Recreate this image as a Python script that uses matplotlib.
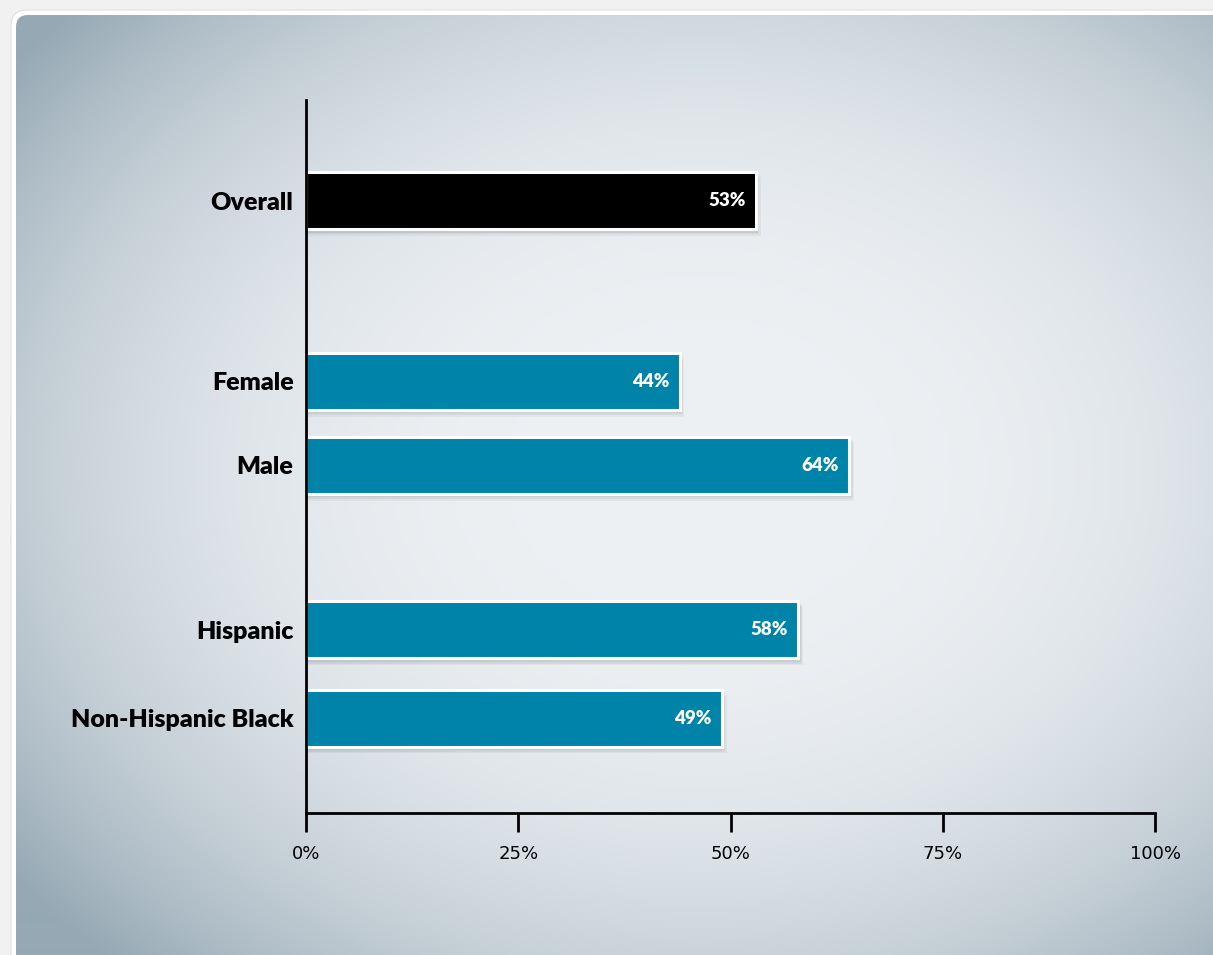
import numpy as np
import matplotlib
matplotlib.use("Agg")
import matplotlib.pyplot as plt
from matplotlib.patches import FancyBboxPatch, Rectangle
from matplotlib import font_manager

# ---- data ----
categories = ["Overall", "Female", "Male", "Hispanic", "Non-Hispanic Black"]
values = [53, 44, 64, 58, 49]
bar_colors = ["#000000", "#0083a9", "#0083a9", "#0083a9", "#0083a9"]
xticks = [0, 25, 50, 75, 100]
xtick_labels = ["0%", "25%", "50%", "75%", "100%"]

# ---- layout (slot positions, not data) ----
ypos = [1.20, 3.35, 4.35, 6.31, 7.36]
bar_h = 0.68
y_extent = 8.49

W, H = 1213, 955
fig = plt.figure(figsize=(W / 100, H / 100), dpi=100)
fig.patch.set_facecolor("#f1f1f1")

avail = {f.name for f in font_manager.fontManager.ttflist}
label_font = "Lato" if "Lato" in avail else "DejaVu Sans"
tick_font = "Liberation Sans Narrow" if "Liberation Sans Narrow" in avail else "DejaVu Sans"

# background panel
bg = fig.add_axes([0, 0, 1, 1])
bg.set_xlim(0, W)
bg.set_ylim(H, 0)
bg.axis("off")
border = FancyBboxPatch((11, 10), W + 40, H + 40,
                        boxstyle="round,pad=0,rounding_size=16",
                        facecolor="white", edgecolor="#e0e0e0", lw=0.8)
bg.add_patch(border)
panel = FancyBboxPatch((16, 15), W + 40, H + 40,
                       boxstyle="round,pad=0,rounding_size=12",
                       facecolor="none", edgecolor="none")
bg.add_patch(panel)
yy, xx = np.mgrid[0:H, 0:W]
cx, cy, rx, ry = 700, 470, 720, 560
d = np.sqrt(((xx - cx) / rx) ** 2 + ((yy - cy) / ry) ** 2)
t = np.clip(d, 0, 1.2) / 1.2
t = t ** 2.8
c0 = np.array([0xee, 0xf1, 0xf4]) / 255
c1 = np.array([0x95, 0xa8, 0xb4]) / 255
img = c0[None, None, :] * (1 - t[..., None]) + c1[None, None, :] * t[..., None]
im = bg.imshow(img, extent=(0, W, H, 0), interpolation="bilinear", zorder=1)
im.set_clip_path(panel)

# main axes
left, right = 306 / W, 1155 / W
bottom, top = 1 - 813 / H, 1 - 100 / H
ax = fig.add_axes([left, bottom, right - left, top - bottom])
ax.set_facecolor("none")
ax.set_xlim(0, 100)
ax.set_ylim(y_extent, 0)

# shadows
for y, v in zip(ypos, values):
    for k, a in enumerate([0.05, 0.05, 0.04]):
        ax.add_patch(Rectangle((0, y - bar_h / 2 + 0.02 + 0.02 * k), v + 0.25 + 0.15 * k, bar_h + 0.02,
                               facecolor="#000000", alpha=a, edgecolor="none", zorder=1))

ax.barh(ypos, values, height=bar_h, color=bar_colors, edgecolor="white",
        linewidth=2.2, zorder=2)

for y, v in zip(ypos, values):
    ax.text(v - 1.2, y, f"{v}%", ha="right", va="center", color="white",
            fontsize=13.5, fontweight="heavy", family=label_font, zorder=3)

ax.set_yticks(ypos)
ax.set_yticklabels(categories, fontsize=18, fontweight="heavy", family=label_font, color="black")
ax.tick_params(axis="y", length=0, pad=9)
ax.set_xticks(xticks)
ax.set_xticklabels(xtick_labels, fontsize=13, family=tick_font, color="black")
ax.tick_params(axis="x", direction="out", length=14, width=2, pad=9, color="black")

for s in ["top", "right"]:
    ax.spines[s].set_visible(False)
ax.spines["left"].set_linewidth(2)
ax.spines["bottom"].set_linewidth(2)
ax.spines["left"].set_zorder(4)

fig.savefig("out.png", dpi=100, facecolor=fig.get_facecolor())
